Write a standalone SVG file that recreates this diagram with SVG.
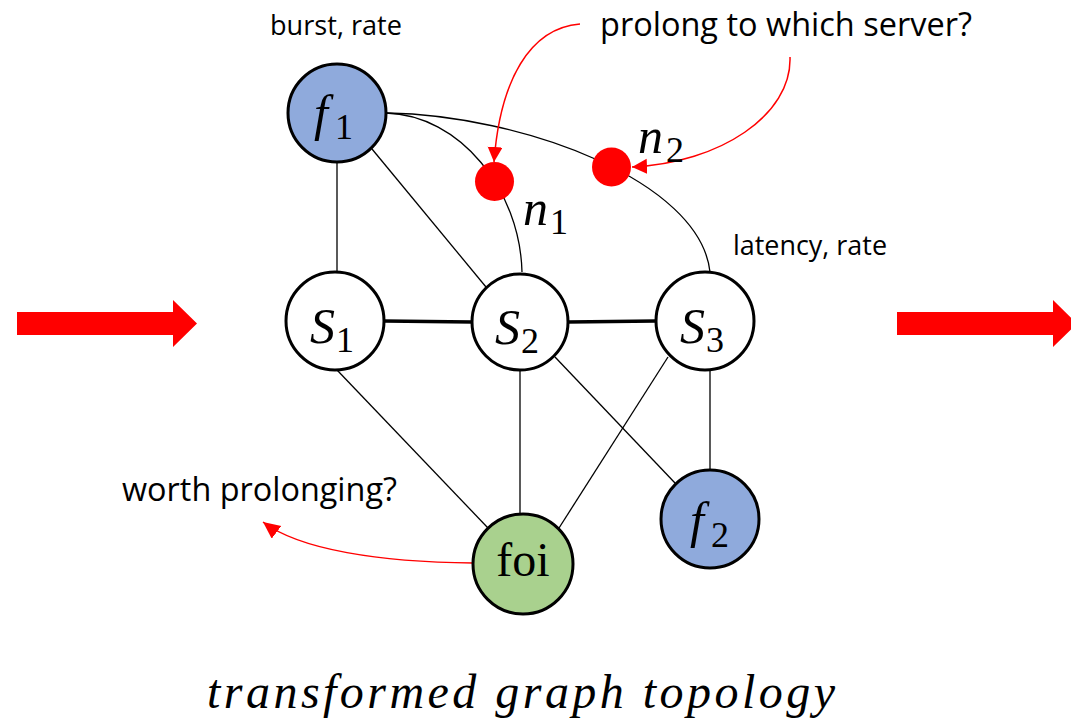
<svg xmlns="http://www.w3.org/2000/svg" width="1071" height="724" viewBox="0 0 1071 724">
  <style>
    .node { stroke: #000; stroke-width: 3; }
    .plain { fill: #fff; }
    .flow { fill: #8FAADC; }
    .foi { fill: #A9D18E; }
    .edge { stroke: #000; stroke-width: 1.3; fill: none; }
    .link { stroke: #000; stroke-width: 3.5; fill: none; }
    .ann { stroke: #f00; stroke-width: 1.5; fill: none; }
    .note { font-family: "Open Sans", "Liberation Sans", sans-serif; fill: #000; }
    .math { font-family: "Liberation Serif", "DejaVu Serif", serif; font-style: italic; font-size: 50px; fill: #000; }
    .sub { font-style: normal; font-size: 36px; }
  </style>
  <defs>
    <marker id="tip" markerUnits="userSpaceOnUse" markerWidth="16" markerHeight="16" refX="15" refY="7.5" orient="auto">
      <path d="M0,0 L15,7.5 L0,15 Z" fill="#f00"/>
    </marker>
    <marker id="tipBig" markerUnits="userSpaceOnUse" markerWidth="18" markerHeight="18" refX="17" refY="8" orient="auto">
      <path d="M0,0 L17,8 L0,16 Z" fill="#f00"/>
    </marker>
  </defs>

  <!-- block arrows on both sides -->
  <polygon points="17,312 173,312 173,300 197,323.5 173,347 173,335 17,335" fill="#f00"/>
  <polygon points="897,312 1053,312 1053,300 1077,323.5 1053,347 1053,335 897,335" fill="#f00"/>

  <g id="connectors">
    <line class="edge" x1="337" y1="162" x2="337" y2="272"/>
    <line class="edge" x1="372" y1="149" x2="486" y2="287"/>
    <path class="edge" d="M386,113 C460,115 520,190 522,272"/>
    <path class="edge" d="M387,113 C520,115 700,180 710,272"/>
    <line class="link" x1="384" y1="321" x2="472" y2="322"/>
    <line class="link" x1="568" y1="322" x2="656" y2="321"/>
    <line class="edge" x1="337" y1="370" x2="488" y2="528"/>
    <line class="edge" x1="520" y1="371" x2="520" y2="514"/>
    <line class="edge" x1="668" y1="357" x2="559" y2="528"/>
    <line class="edge" x1="555" y1="357" x2="675" y2="483"/>
    <line class="edge" x1="710" y1="370" x2="710" y2="470"/>
    <!-- red annotation arrows -->
    <path class="ann" d="M580,24 C530,28 500,80 494,162" marker-end="url(#tip)"/>
    <path class="ann" d="M790,57 C792,115 720,163 632,167" marker-end="url(#tip)"/>
    <path class="ann" stroke-width="3" d="M473,563 C380,562 300,550 263,522" marker-end="url(#tipBig)"/>
  </g>

  <g id="node-f1">
    <circle class="node flow" cx="337" cy="113" r="49"/>
    <text class="math" x="314" y="130">f<tspan class="sub" x="335" y="139">1</tspan></text>
  </g>
  <g id="node-S1">
    <circle class="node plain" cx="335" cy="321" r="49"/>
    <text class="math" x="310" y="343">S<tspan class="sub" x="336" y="352">1</tspan></text>
  </g>
  <g id="node-S2">
    <circle class="node plain" cx="520" cy="322" r="48"/>
    <text class="math" x="495" y="344">S<tspan class="sub" x="521" y="353">2</tspan></text>
  </g>
  <g id="node-S3">
    <circle class="node plain" cx="705" cy="321" r="49"/>
    <text class="math" x="680" y="343">S<tspan class="sub" x="706" y="352">3</tspan></text>
  </g>
  <g id="node-f2">
    <circle class="node flow" cx="710" cy="519" r="49"/>
    <text class="math" x="690" y="537">f<tspan class="sub" x="711" y="547">2</tspan></text>
  </g>
  <g id="node-foi">
    <circle class="node foi" cx="523" cy="564" r="50"/>
    <text x="523" y="576" text-anchor="middle" font-family="Liberation Serif, serif" font-size="48">foi</text>
  </g>
  <g id="node-n1">
    <circle cx="494.5" cy="181.5" r="19.5" fill="#f00"/>
    <text class="math" x="523" y="225">n<tspan class="sub" x="550" y="234">1</tspan></text>
  </g>
  <g id="node-n2">
    <circle cx="611.5" cy="167" r="19.5" fill="#f00"/>
    <text class="math" x="638" y="153">n<tspan class="sub" x="666" y="162">2</tspan></text>
  </g>

  <!-- annotations -->
  <text class="note" x="270" y="35" font-size="27" textLength="132" lengthAdjust="spacingAndGlyphs">burst, rate</text>
  <text class="note" x="600" y="36" font-size="32" textLength="372" lengthAdjust="spacingAndGlyphs">prolong to which server?</text>
  <text class="note" x="733" y="255" font-size="27" textLength="154" lengthAdjust="spacingAndGlyphs">latency, rate</text>
  <text class="note" x="122" y="501" font-size="32" textLength="275" lengthAdjust="spacingAndGlyphs">worth prolonging?</text>

  <text x="207" y="708" font-family="Liberation Serif, serif" font-style="italic" font-size="48" textLength="628" lengthAdjust="spacing">transformed graph topology</text>
</svg>
